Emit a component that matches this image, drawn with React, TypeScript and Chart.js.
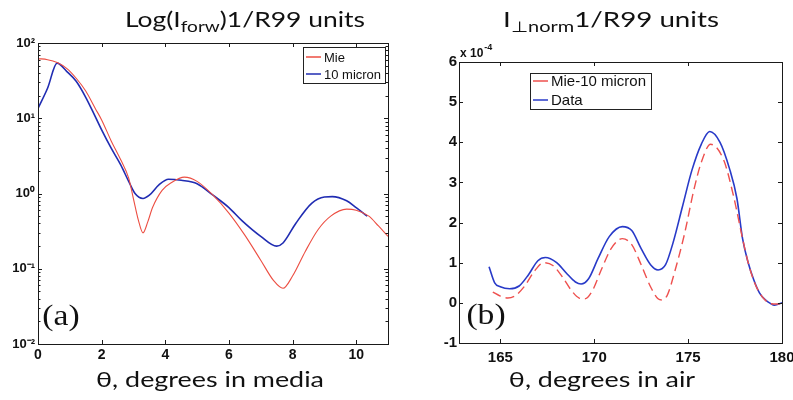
import React, { useEffect, useRef } from 'react';
import { Chart, registerables } from 'chart.js';

Chart.register(...registerables);

// ---- Panel (a): forward scattering, log scale ----
const mieTheta = [0, 0.3, 0.6, 0.9, 1.2, 1.5, 1.8, 2.0, 2.3, 2.6, 2.85, 3.0, 3.15, 3.3, 3.45, 3.6, 3.9, 4.2, 4.6, 5.0, 5.5, 6.0, 6.5, 7.0, 7.4, 7.7, 8.0, 8.4, 8.8, 9.2, 9.7, 10.0, 10.4, 10.7, 11.0];
const mieValues = [62, 60, 55, 46, 34, 23, 13.5, 9.5, 5.0, 2.8, 1.6, 0.85, 0.45, 0.3, 0.42, 0.65, 1.1, 1.4, 1.65, 1.45, 0.95, 0.55, 0.28, 0.13, 0.07, 0.055, 0.08, 0.17, 0.33, 0.5, 0.62, 0.6, 0.5, 0.37, 0.27];

const microTheta = [0, 0.3, 0.6, 0.9, 1.2, 1.5, 1.8, 2.0, 2.3, 2.6, 2.85, 3.05, 3.3, 3.5, 3.8, 4.1, 4.5, 5.0, 5.5, 6.0, 6.4, 7.0, 7.5, 7.7, 8.1, 8.6, 9.0, 9.25, 9.7, 10.0, 10.35];
const microValues = [13.5, 25, 54, 42, 31, 19, 10.5, 7, 4, 2.4, 1.45, 1.0, 0.86, 0.95, 1.3, 1.55, 1.5, 1.35, 0.95, 0.65, 0.44, 0.27, 0.2, 0.22, 0.4, 0.74, 0.9, 0.91, 0.8, 0.65, 0.5];

const leftXTicks = { min: 0, max: 11, step: 2 };
const leftYTicks = [0.01, 0.1, 1, 10, 100];
const leftYTickLabels = ['10\u207B\u00B2', '10\u207B\u00B9', '10\u2070', '10\u00B9', '10\u00B2'];
const leftLabels = ['Mie', '10 micron'];

// ---- Panel (b): perpendicular intensity ----
const airMieTheta = [164.6, 165.0, 165.4, 165.8, 166.3, 166.8, 167.3, 167.8, 168.3, 168.8, 169.2, 169.5, 169.9, 170.4, 170.9, 171.5, 172.0, 172.5, 173.0, 173.4, 173.6, 173.9, 174.3, 174.8, 175.3, 175.7, 176.2, 176.9, 177.4, 177.9, 178.2, 178.5, 178.8, 179.1, 179.4, 179.7, 180.0];
const airMieValues = [0.27, 0.17, 0.12, 0.18, 0.42, 0.78, 1.0, 0.93, 0.65, 0.3, 0.12, 0.1, 0.3, 0.85, 1.35, 1.6, 1.45, 0.95, 0.4, 0.1, 0.07, 0.2, 0.8, 1.7, 2.8, 3.5, 3.95, 3.55, 2.7, 1.6, 1.0, 0.55, 0.25, 0.07, -0.02, -0.03, -0.02];

const airDataTheta = [164.4, 164.7, 165.0, 165.5, 166.0, 166.5, 167.0, 167.4, 168.0, 168.5, 169.0, 169.3, 169.7, 170.2, 170.8, 171.5, 172.0, 172.5, 173.0, 173.4, 173.8, 174.2, 174.7, 175.2, 175.7, 176.15, 176.7, 177.2, 177.6, 177.9, 178.2, 178.5, 178.8, 179.1, 179.4, 179.6, 180.0];
const airDataValues = [0.9, 0.5, 0.4, 0.35, 0.42, 0.7, 1.05, 1.13, 1.0, 0.75, 0.52, 0.47, 0.6, 1.1, 1.65, 1.9, 1.8, 1.35, 0.95, 0.82, 0.95, 1.5, 2.4, 3.3, 3.95, 4.27, 4.0, 3.35, 2.6, 1.6, 1.0, 0.57, 0.25, 0.08, -0.02, -0.06, 0];

const rightXTicks = { min: 162.8, max: 180, step: 5 };
const rightYTicks = { min: -1, max: 6, step: 1 };
const rightLabels = ['Mie-10 micron', 'Data'];

const RED = 'rgb(236, 78, 66)';
const BLUE = 'rgb(32, 44, 178)';

const pts = (xs: number[], ys: number[]) => xs.map((x, i) => ({ x, y: ys[i] }));

const framePlugin = {
  id: 'matlabFrame',
  afterDatasetsDraw(chart: any, _args: any, opts: any) {
    const { ctx, chartArea: a, scales } = chart;
    ctx.save();
    ctx.strokeStyle = '#1a1a1a';
    ctx.lineWidth = 1;
    const line = (x1: number, y1: number, x2: number, y2: number) => {
      ctx.beginPath();
      ctx.moveTo(x1, y1);
      ctx.lineTo(x2, y2);
      ctx.stroke();
    };
    const xs = scales.x;
    xs.ticks.forEach((t: any) => {
      const px = Math.round(xs.getPixelForValue(t.value)) + 0.5;
      line(px, a.bottom, px, a.bottom - 4);
      line(px, a.top, px, a.top + 4);
    });
    const ys = scales.y;
    ys.ticks.forEach((t: any) => {
      const py = Math.round(ys.getPixelForValue(t.value)) + 0.5;
      line(a.left, py, a.left + 4, py);
      line(a.right, py, a.right - 4, py);
    });
    if (opts.logMinor) {
      for (let e = Math.log10(ys.min); e < Math.log10(ys.max); e++) {
        for (let k = 2; k <= 9; k++) {
          const py = Math.round(ys.getPixelForValue(k * Math.pow(10, e))) + 0.5;
          line(a.left, py, a.left + 2.5, py);
          line(a.right, py, a.right - 2.5, py);
        }
      }
    }
    ctx.strokeRect(Math.round(a.left) + 0.5, Math.round(a.top) + 0.5, Math.round(a.width), Math.round(a.height));

    if (opts.exponent) {
      ctx.fillStyle = '#111';
      ctx.font = 'bold 12px "Liberation Sans", Arial, sans-serif';
      ctx.textBaseline = 'alphabetic';
      ctx.textAlign = 'left';
      const bx = a.left + 1;
      const by = a.top - 5;
      ctx.fillText(opts.exponent.base, bx, by);
      const w = ctx.measureText(opts.exponent.base).width;
      ctx.font = 'bold 9px "Liberation Sans", Arial, sans-serif';
      ctx.fillText(opts.exponent.sup, bx + w + 1, by - 7);
    }

    const lg = opts.legend;
    if (lg) {
      const x0 = lg.fromRight ? a.right - lg.dx - lg.w : a.left + lg.dx;
      const y0 = a.top + lg.dy;
      ctx.fillStyle = '#fff';
      ctx.fillRect(x0, y0, lg.w, lg.h);
      ctx.strokeStyle = '#222';
      ctx.strokeRect(Math.round(x0) + 0.5, Math.round(y0) + 0.5, lg.w, lg.h);
      ctx.font = `${lg.fontSize}px "Liberation Sans", Arial, sans-serif`;
      ctx.textBaseline = 'middle';
      ctx.textAlign = 'left';
      chart.data.datasets.forEach((ds: any, i: number) => {
        const cy = y0 + lg.row0 + i * lg.rowH;
        ctx.strokeStyle = ds.borderColor;
        ctx.lineWidth = 1.5;
        ctx.setLineDash([]);
        line(x0 + 3, cy, x0 + 3 + lg.sample, cy);
        ctx.fillStyle = '#111';
        ctx.fillText(ds.label, x0 + 6 + lg.sample, cy + 1);
      });
    }
    ctx.restore();
  },
};

const tickFont = (size: number) => ({ family: '"Liberation Sans", Arial, sans-serif', size, weight: 'bold' as const });

function useChart(ref: React.RefObject<HTMLCanvasElement | null>, makeConfig: () => any) {
  useEffect(() => {
    if (!ref.current) return;
    const chart = new Chart(ref.current, makeConfig());
    return () => chart.destroy();
  }, []);
}

const noSidePad = (s: any) => { s.paddingLeft = 0; s.paddingRight = 0; };

export default function App() {
  const leftRef = useRef<HTMLCanvasElement | null>(null);
  const rightRef = useRef<HTMLCanvasElement | null>(null);

  useChart(leftRef, () => ({
    type: 'line',
    data: {
      datasets: [
        { label: leftLabels[0], data: pts(mieTheta, mieValues), borderColor: RED, borderWidth: 1.1, pointRadius: 0, cubicInterpolationMode: 'monotone', fill: false },
        { label: leftLabels[1], data: pts(microTheta, microValues), borderColor: BLUE, borderWidth: 1.6, pointRadius: 0, cubicInterpolationMode: 'monotone', fill: false },
      ],
    },
    options: {
      animation: false,
      responsive: false,
      maintainAspectRatio: false,
      layout: { padding: { top: 43, right: 12, left: 0, bottom: 0 } },
      plugins: {
        legend: { display: false },
        tooltip: { enabled: false },
        matlabFrame: {
          logMinor: true,
          legend: { fromRight: true, dx: 3, dy: 4, w: 82, h: 36, row0: 10, rowH: 17, sample: 15, fontSize: 13 },
        },
      },
      scales: {
        x: {
          type: 'linear', min: leftXTicks.min, max: leftXTicks.max,
          ticks: { stepSize: leftXTicks.step, includeBounds: false, padding: 3, color: '#111', font: tickFont(14), maxRotation: 0 },
          grid: { display: false, drawTicks: false }, border: { display: false },
          afterFit: (s: any) => { s.height = 56; noSidePad(s); },
        },
        y: {
          type: 'logarithmic', min: leftYTicks[0], max: leftYTicks[leftYTicks.length - 1],
          afterBuildTicks: (s: any) => { s.ticks = leftYTicks.map((v) => ({ value: v })); },
          ticks: {
            autoSkip: false, padding: 3, color: '#111', font: tickFont(13),
            callback: (v: number) => { const i = leftYTicks.indexOf(v); return i >= 0 ? leftYTickLabels[i] : ''; },
          },
          grid: { display: false, drawTicks: false }, border: { display: false },
          afterFit: (s: any) => { s.width = 38; s.paddingTop = 0; s.paddingBottom = 0; },
        },
      },
    },
    plugins: [framePlugin],
  }));

  useChart(rightRef, () => ({
    type: 'line',
    data: {
      datasets: [
        { label: rightLabels[0], data: pts(airMieTheta, airMieValues), borderColor: 'rgb(238, 80, 78)', borderWidth: 1.4, borderDash: [9, 5], pointRadius: 0, cubicInterpolationMode: 'monotone', fill: false },
        { label: rightLabels[1], data: pts(airDataTheta, airDataValues), borderColor: 'rgb(40, 58, 200)', borderWidth: 1.6, pointRadius: 0, cubicInterpolationMode: 'monotone', fill: false },
      ],
    },
    options: {
      animation: false,
      responsive: false,
      maintainAspectRatio: false,
      layout: { padding: { top: 62, right: 11, left: 0, bottom: 0 } },
      plugins: {
        legend: { display: false },
        tooltip: { enabled: false },
        matlabFrame: {
          logMinor: false,
          exponent: { base: 'x 10', sup: '-4' },
          legend: { fromRight: false, dx: 71, dy: 11, w: 121, h: 36, row0: 8, rowH: 19, sample: 15, fontSize: 15 },
        },
      },
      scales: {
        x: {
          type: 'linear', min: rightXTicks.min, max: rightXTicks.max,
          ticks: { stepSize: rightXTicks.step, includeBounds: false, padding: 6, color: '#111', font: tickFont(15), maxRotation: 0 },
          grid: { display: false, drawTicks: false }, border: { display: false },
          afterFit: (s: any) => { s.height = 57; noSidePad(s); },
        },
        y: {
          type: 'linear', min: rightYTicks.min, max: rightYTicks.max,
          ticks: { stepSize: rightYTicks.step, padding: 2, color: '#111', font: tickFont(15) },
          grid: { display: false, drawTicks: false }, border: { display: false },
          afterFit: (s: any) => { s.width = 59; s.paddingTop = 0; s.paddingBottom = 0; },
        },
      },
    },
    plugins: [framePlugin],
  }));

  const titleFont = '21px Lato, "Open Sans", sans-serif';
  const abs = (left: number, top: number, font: string, sx: number): React.CSSProperties => ({
    position: 'absolute', left, top, font, whiteSpace: 'nowrap', lineHeight: 1, color: '#111',
    transform: `translateX(-50%) scaleX(${sx})`,
  });
  const sub: React.CSSProperties = { fontSize: '0.72em', verticalAlign: '-0.32em' };
  const serif = '30px "Liberation Serif", "Times New Roman", serif';

  return (
    <div style={{ position: 'fixed', left: 0, top: 0, width: 793, height: 400, background: '#fff', overflow: 'hidden' }}>
      <canvas ref={leftRef} width={400} height={400} style={{ position: 'absolute', left: 0, top: 0, width: 400, height: 400 }} />
      <canvas ref={rightRef} width={393} height={400} style={{ position: 'absolute', left: 400, top: 0, width: 393, height: 400 }} />
      <div style={abs(245, 8, titleFont, 1.26)}>Log(I<span style={sub}>forw</span>)1/R99 units</div>
      <div style={abs(611, 8, titleFont, 1.32)}>I<span style={sub}>⊥norm</span>1/R99 units</div>
      <div style={abs(210, 368, titleFont, 1.28)}>θ, degrees in media</div>
      <div style={abs(602, 368, titleFont, 1.28)}>θ, degrees in air</div>
      <div style={abs(61, 300, serif, 1.12)}>(a)</div>
      <div style={abs(486, 299, serif, 1.12)}>(b)</div>
    </div>
  );
}
